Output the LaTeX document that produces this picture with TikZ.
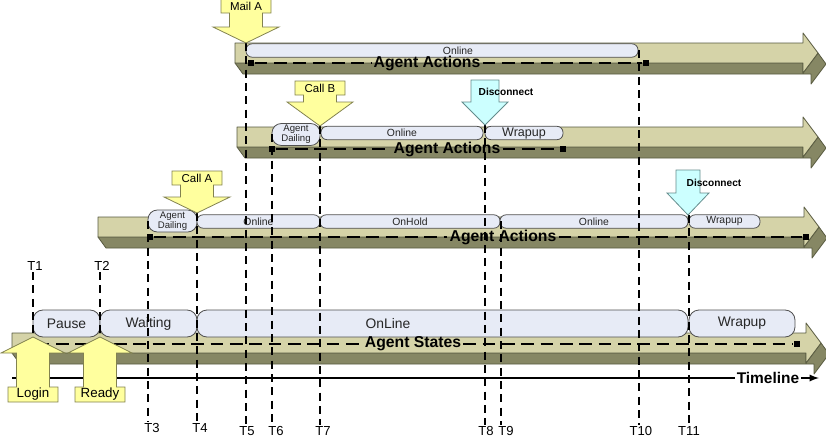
\documentclass[tikz,border=0pt]{standalone}
\usepackage{fontspec}
\setmainfont{Liberation Sans}
\usepackage{tikz}
\usetikzlibrary{arrows, calc}

\definecolor{bandlight}{RGB}{213,211,168}
\definecolor{bandshade}{RGB}{134,135,100}
\definecolor{bandedge}{RGB}{88,90,64}
\definecolor{pillfill}{RGB}{231,235,246}
\definecolor{pilledge}{RGB}{80,80,80}
\definecolor{callfill}{RGB}{255,255,158}
\definecolor{calledge}{RGB}{130,130,80}
\definecolor{discfill}{RGB}{204,255,255}
\definecolor{discedge}{RGB}{100,140,140}

\tikzset{
  band/.style={draw=bandedge, line width=0.6pt, line join=round},
  pill/.style={draw=pilledge, fill=pillfill, line width=0.6pt, inner sep=0pt, text=black!85},
  statepill/.style={pill, rounded corners=7.5pt, minimum height=20.25pt, font=\fontsize{10.4}{12}\selectfont},
  actpill/.style={pill, rounded corners=4.5pt, minimum height=10pt, font=\fontsize{7.8}{9}\selectfont},
  dialpill/.style={pill, rounded corners=7pt, minimum height=16.5pt, align=center, font=\fontsize{7.2}{7.4}\selectfont},
  bandlabel/.style={inner sep=1.5pt, font=\fontsize{11.8}{13}\selectfont\bfseries},
  sqmark/.style={fill=black, minimum size=5pt, inner sep=0pt},
  actline/.style={line width=2pt, dash pattern=on 9.5pt off 5pt},
  tline/.style={line width=0.9pt, dash pattern=on 6pt off 4pt},
  tlabel/.style={inner sep=1pt, font=\fontsize{9.8}{11}\selectfont},
  callbox/.style={fill=callfill, draw=calledge, line width=0.6pt},
  calltext/.style={inner sep=0pt, font=\fontsize{8.6}{10}\selectfont},
  discarrow/.style={fill=discfill, draw=discedge, line width=0.6pt},
  disctext/.style={inner sep=0pt, font=\fontsize{7.6}{9}\selectfont\bfseries},
}

\begin{document}
\begin{tikzpicture}[x=0.75pt, y=-0.75pt]
\useasboundingbox (0,0) rectangle (826,439);

% the four bands
\foreach \xa/\ya/\xe in {235/43/803, 237/127/803, 98/217/804, 12/333/806} {
  \draw[band, fill=bandshade] (\xa,\ya+20) -- (\xe,\ya+20) -- (\xe,\ya+30) -- (\xe+15,\ya+10)
    -- (\xe+23,\ya+21) -- (\xe+8,\ya+41) -- (\xe+8,\ya+31) -- (\xa+8,\ya+31) -- cycle;
  \draw[band, fill=bandlight] (\xa,\ya) -- (\xe,\ya) -- (\xe,\ya-10) -- (\xe+15,\ya+10)
    -- (\xe,\ya+30) -- (\xe,\ya+20) -- (\xa,\ya+20) -- cycle;
}

% agent states
\foreach \n/\xa/\xb/\txt in {pause/33/100/Pause, wait/100/197/Waiting, onl/197/688/{}, wrap/689/795/Wrapup}
  \node[statepill, minimum width={(\xb-\xa)*0.75pt}] (\n) at ({(\xa+\xb)/2},323.5) {\txt};
\node[font=\fontsize{10.4}{12}\selectfont, text=black!85] (onltext) at (388,323.5) {OnLine};

% third band
\node[dialpill, minimum width=36.75pt] (dial3) at (172.5,221) {Agent\\Dailing};
\foreach \n/\xa/\xb/\txt in {onA/197/320/Online, hold/320/500/OnHold, onB/500/688/Online, wrapA/689/760/Wrapup}
  \node[actpill, minimum width={(\xb-\xa)*0.75pt}] (\n) at ({(\xa+\xb)/2},221.5) {\txt};

% second band
\node[dialpill, minimum width=36pt] (dial2) at (296,134.5) {Agent\\Dailing};
\node[actpill, minimum width=121.5pt] (onC) at (402,133) {Online};
\node[actpill, minimum width=58.5pt, font=\fontsize{9.4}{11}\selectfont] (wrapB) at (524,133) {Wrapup};

% top band
\node[actpill, minimum width=294pt] (onD) at (442,50.5) {};
\node[font=\fontsize{7.8}{9}\selectfont, text=black!85] (onDtext) at (458,50.5) {Online};

% band labels with dashed lines
\foreach \n/\lx/\y/\ma/\mb/\txt in {1/427/63/251/646/Agent Actions, 2/447/149/272/563/Agent Actions,
    3/503/237/150/806/Agent Actions, 4/413/344/33/797/Agent States} {
  \node[bandlabel] (lab\n) at (\lx,\y) {\txt};
  \node[sqmark] (ma\n) at (\ma,\y) {};
  \node[sqmark] (mb\n) at (\mb,\y) {};
  \draw[actline] (ma\n) -- (lab\n.west);
  \draw[actline] (lab\n.east) -- (mb\n);
}

% timeline
\coordinate (tl0) at (12,378);
\coordinate (tl1) at (819,378);
\node[font=\fontsize{11.6}{13}\selectfont\bfseries, inner sep=1pt] (tlab) at (768,378) {Timeline};
\draw[line width=1.4pt] (tl0) -- (tlab.west);
\draw[line width=1.4pt, -latex] (tlab.east) -- (tl1);

% time marks
\foreach \n/\lx/\ly/\tx/\ty in {3/152/428/148/221, 4/200/428/197/213, 5/247/431/246/43,
    6/276/431/272/134, 7/323/431/320/126, 8/486/431/485/125, 9/506/431/501/221,
    10/641/431/639/50, 11/689/431/689/215} {
  \node[tlabel] (t\n) at (\lx,\ly) {T\n};
  \coordinate (top\n) at (\tx,\ty);
  \draw[tline] (top\n) -- (top\n |- t\n.north);
}
\foreach \n/\x in {1/33, 2/100} {
  \node[tlabel] (t\n) at (\x+2,266) {T\n};
  \coordinate (tip\n) at (\x,337);
  \draw[tline] (tip\n |- t\n.south) -- (tip\n);
}

% events
\foreach \n/\tx/\ty/\hh/\sl/\txt in {mailA/246/43/16/14/Mail A, callB/320/126/24/7/Call B, callA/197/213/16/12/Call A} {
  \draw[callbox] (\tx,\ty) -- ++(33,-\hh) -- ++(-16.5,0) -- ++(0,-\sl) -- ++(8.5,0) -- ++(0,-14)
    -- ++(-50,0) -- ++(0,14) -- ++(8.5,0) -- ++(0,\sl) -- ++(-16.5,0) -- cycle;
  \node[calltext] (\n) at (\tx,\ty-\hh-\sl-7) {\txt};
}
\foreach \n/\tx/\txt in {login/33/Login, ready/100/Ready} {
  \draw[callbox] (\tx,337) -- ++(32,16) -- ++(-15.5,0) -- ++(0,34) -- ++(8.5,0) -- ++(0,15)
    -- ++(-50,0) -- ++(0,-15) -- ++(8.5,0) -- ++(0,-34) -- ++(-15.5,0) -- cycle;
  \node[calltext, font=\fontsize{10}{12}\selectfont] (\n) at (\tx,394.5) {\txt};
}
\draw[discarrow] (485,125) -- ++(23,-23) -- ++(-9,0) -- ++(0,-22) -- ++(-28,0) -- ++(0,22) -- ++(-9,0) -- cycle;
\node[disctext] (disc1) at (506,92) {Disconnect};
\draw[discarrow] (688,215) -- ++(21,-22) -- ++(-9,0) -- ++(0,-23) -- ++(-24,0) -- ++(0,23) -- ++(-9,0) -- cycle;
\node[disctext] (disc2) at (714,183) {Disconnect};
\end{tikzpicture}
\end{document}
